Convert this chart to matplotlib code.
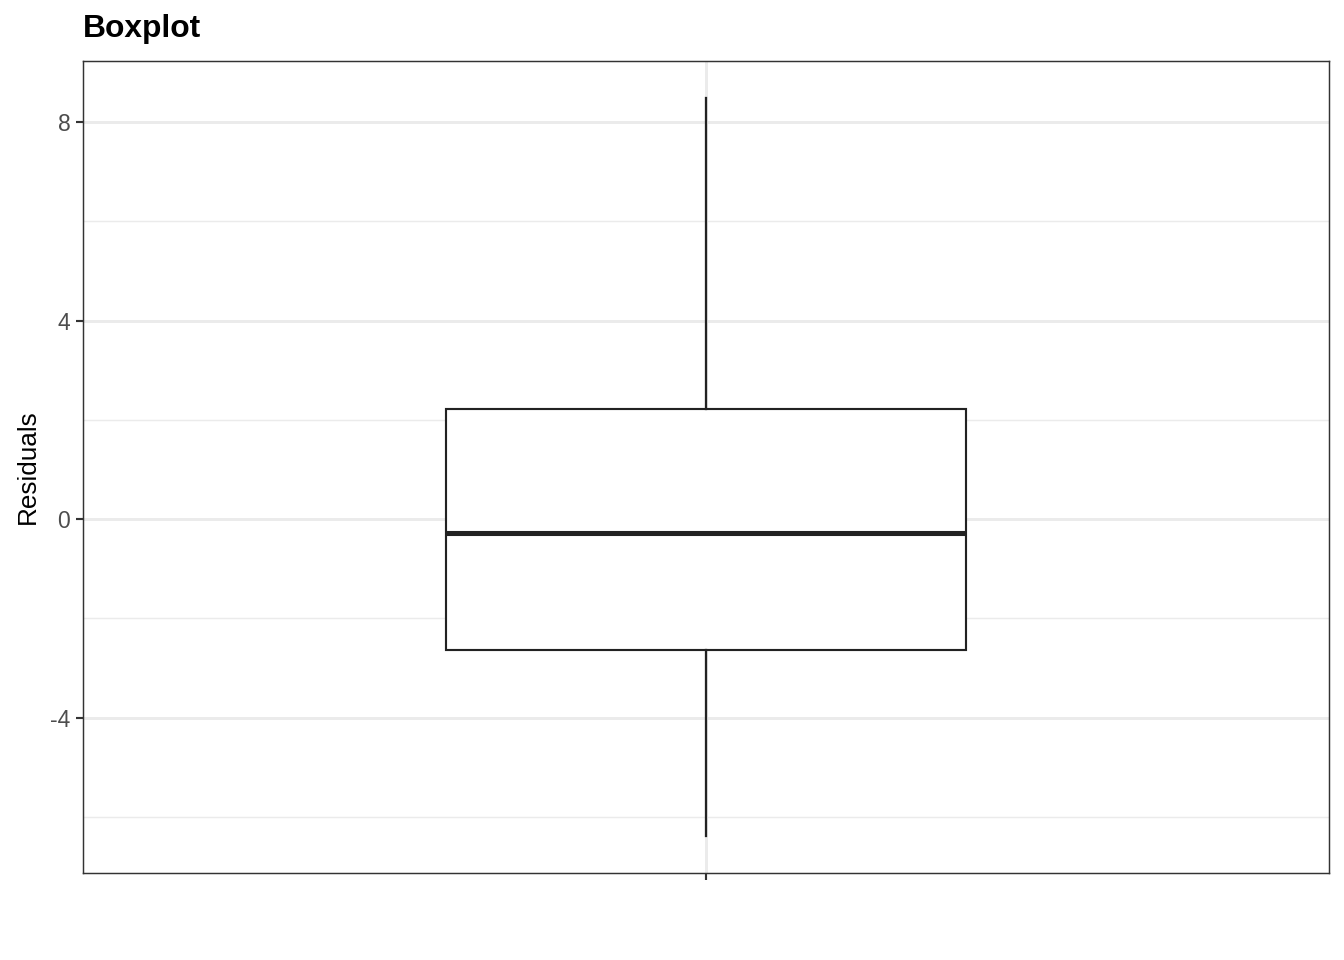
import matplotlib
matplotlib.use("Agg")
import matplotlib.pyplot as plt
from matplotlib.ticker import MultipleLocator

# five-number summary of the residuals
whisker_low = -6.39
q1 = -2.63
median = -0.28
q3 = 2.21
whisker_high = 8.49

y_ticks = [-4, 0, 4, 8]
y_tick_labels = ["-4", "0", "4", "8"]

plt.rcParams["font.family"] = ["Liberation Sans", "DejaVu Sans"]

fig = plt.figure(figsize=(7, 5), dpi=192)
ax = fig.add_axes([83 / 1344, 1 - 873 / 960, (1329 - 83) / 1344, (873 - 61) / 960])

stats = [{
    "whislo": whisker_low,
    "q1": q1,
    "med": median,
    "q3": q3,
    "whishi": whisker_high,
    "fliers": [],
}]
ax.bxp(
    stats, positions=[0], widths=1.0, showcaps=False, patch_artist=True,
    boxprops=dict(facecolor="white", edgecolor="#222222", linewidth=0.8),
    medianprops=dict(color="#222222", linewidth=1.9, solid_capstyle="butt"),
    whiskerprops=dict(color="#222222", linewidth=0.85),
    zorder=3,
)

span = whisker_high - whisker_low
ax.set_ylim(whisker_low - 0.05 * span, whisker_high + 0.05 * span)
ax.set_xlim(-1.198, 1.198)

ax.set_yticks(y_ticks)
ax.set_yticklabels(y_tick_labels)
ax.yaxis.set_minor_locator(MultipleLocator(2))
ax.set_xticks([0])
ax.set_xticklabels([""])

ax.grid(True, which="major", color="#EBEBEB", linewidth=1.1, zorder=0)
ax.grid(True, which="minor", axis="y", color="#EBEBEB", linewidth=0.55, zorder=0)
ax.set_axisbelow(True)

ax.tick_params(axis="both", which="major", length=2.75, width=0.8, color="#333333",
               labelsize=8.6, labelcolor="#4D4D4D", pad=2.0)
ax.tick_params(axis="y", which="minor", length=0)

for spine in ax.spines.values():
    spine.set_color("#333333")
    spine.set_linewidth(0.55)

ax.set_ylabel("Residuals", fontsize=9.8, color="black", labelpad=4)
ax.set_title("Boxplot", loc="left", fontsize=11.9, fontweight="bold", pad=9)

fig.savefig("out.png", dpi=192, facecolor="white")
